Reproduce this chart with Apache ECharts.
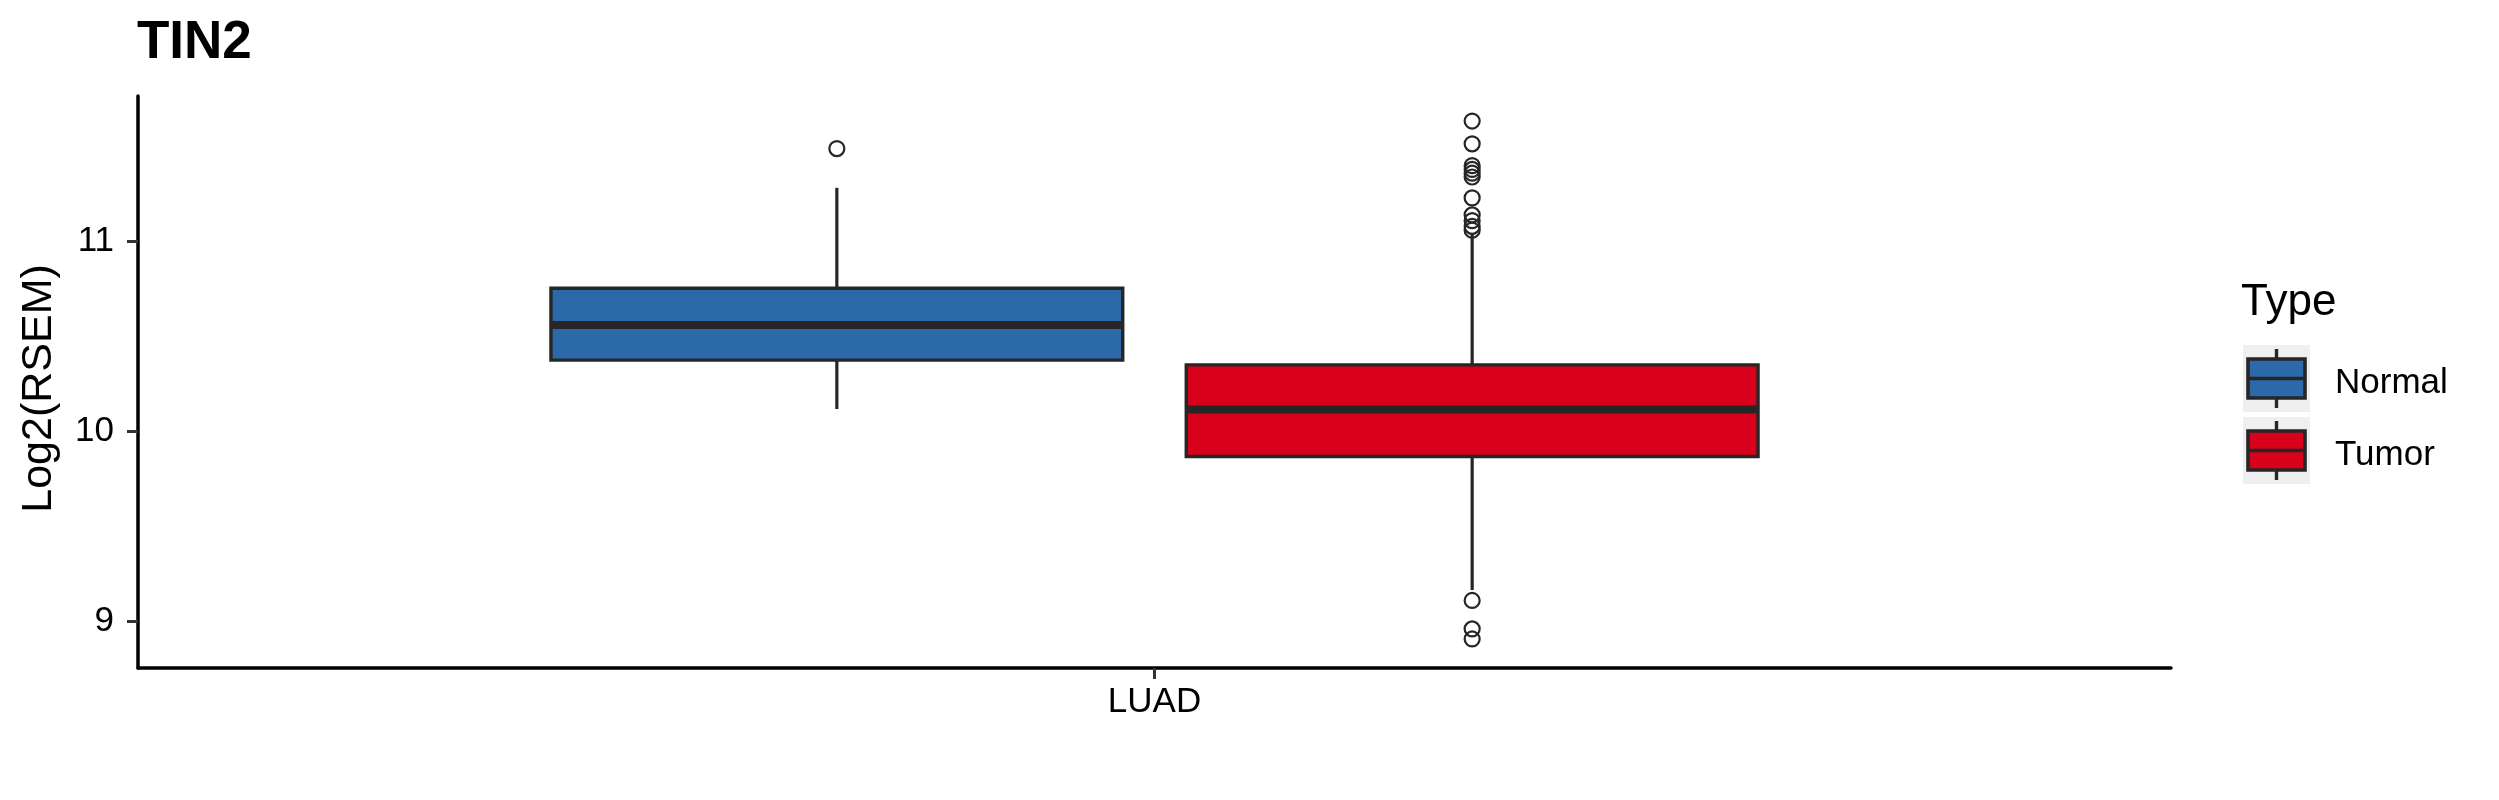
<!DOCTYPE html>
<html><head><meta charset="utf-8">
<script src="https://cdn.jsdelivr.net/npm/echarts@6/dist/echarts.min.js"></script>
<style>html,body{margin:0;padding:0;background:#fff}#c{width:2499px;height:800px}</style>
</head><body><div id="c"></div>
<script>
// ---- data ----
const categories = ['LUAD'];
const groupNames = ['Normal', 'Tumor'];
// [lower whisker, Q1, median, Q3, upper whisker]
const normalStats = [10.117, 10.375, 10.56, 10.754, 11.283];
const tumorStats = [9.163, 9.867, 10.115, 10.35, 11.045];
const normalOutliers = [11.49];
const tumorOutliers = [11.635, 11.515, 11.40, 11.38, 11.36, 11.34, 11.23, 11.14, 11.11, 11.08, 11.06, 9.108, 8.958, 8.905];
const yTicks = [9, 10, 11];
const yMin = 8.752, yMax = 11.767;

// ---- style ----
const FONT = "'Liberation Sans', Arial, Helvetica, sans-serif";
const INK = '#262626';
const colors = { Normal: '#2C69A8', Tumor: '#D9001B' };
const dodges = { Normal: -1, Tumor: 1 };

function bandGeom(api, catIdx, side) {
  const band = api.size([1, 0])[0];
  const unit = band / 1.2;               // discrete scale expanded by 0.6 each side
  const boxW = 0.75 / 2 * 0.9 * unit;    // dodged box width with padding
  const cx = api.coord([catIdx, yMin])[0] + side * 0.75 / 4 * unit;
  return { cx, halfW: boxW / 2 };
}

function boxRenderer(name) {
  return function (params, api) {
    const g = bandGeom(api, api.value(0), dodges[name]);
    const y = v => api.coord([api.value(0), v])[1];
    const lo = y(api.value(1)), q1 = y(api.value(2)), med = y(api.value(3)), q3 = y(api.value(4)), hi = y(api.value(5));
    return { type: 'group', children: [
      { type: 'line', shape: { x1: g.cx, y1: hi, x2: g.cx, y2: q3 }, style: { stroke: INK, lineWidth: 3.2 } },
      { type: 'line', shape: { x1: g.cx, y1: q1, x2: g.cx, y2: lo }, style: { stroke: INK, lineWidth: 3.2 } },
      { type: 'rect', shape: { x: g.cx - g.halfW, y: q3, width: 2 * g.halfW, height: q1 - q3 }, style: { fill: colors[name], stroke: INK, lineWidth: 3.4 } },
      { type: 'line', shape: { x1: g.cx - g.halfW, y1: med, x2: g.cx + g.halfW, y2: med }, style: { stroke: INK, lineWidth: 8 } }
    ]};
  };
}
function outlierRenderer(name) {
  return function (params, api) {
    const g = bandGeom(api, api.value(0), dodges[name]);
    const p = api.coord([api.value(0), api.value(1)]);
    return { type: 'circle', shape: { cx: g.cx, cy: p[1], r: 7.5 }, style: { fill: 'none', stroke: INK, lineWidth: 2.2 } };
  };
}
// tick mark under the category, drawn through the category scale
function xTickRenderer(params, api) {
  const p = api.coord([api.value(0), yMin]);
  return { type: 'line', shape: { x1: p[0], y1: p[1], x2: p[0], y2: p[1] + 11 }, style: { stroke: '#333', lineWidth: 3 } };
}

const statsBy = { Normal: normalStats, Tumor: tumorStats };
const outBy = { Normal: normalOutliers, Tumor: tumorOutliers };
const series = [];
groupNames.forEach(name => {
  series.push({
    name, type: 'custom', renderItem: boxRenderer(name),
    itemStyle: { color: colors[name] },
    encode: { x: 0, y: [1, 2, 3, 4, 5] },
    data: [[0].concat(statsBy[name])], z: 2
  });
});
groupNames.forEach(name => {
  series.push({
    name, type: 'custom', renderItem: outlierRenderer(name),
    itemStyle: { color: colors[name] },
    encode: { x: 0, y: 1 },
    data: outBy[name].map(v => [0, v]), z: 3
  });
});
series.push({
  name: 'xtick', type: 'custom', renderItem: xTickRenderer, clip: false,
  encode: { x: 0, y: 1 }, data: categories.map((c, i) => [i, yMin]), z: 4, silent: true
});

// legend key glyphs (ggplot-style keys with grey background)
const KEY = { left: 2243, top: 345, size: 67, step: 72 };
const keyGraphics = [];
groupNames.forEach((name, i) => {
  const t = KEY.top + i * KEY.step, l = KEY.left, cx = l + KEY.size / 2;
  keyGraphics.push({
    type: 'group', z: 10, children: [
      { type: 'rect', shape: { x: l, y: t, width: KEY.size, height: KEY.size }, style: { fill: '#EFEFEF' } },
      { type: 'line', shape: { x1: cx, y1: t + 4, x2: cx, y2: t + KEY.size - 4 }, style: { stroke: INK, lineWidth: 3.4 } },
      { type: 'rect', shape: { x: l + 5, y: t + 14, width: KEY.size - 10, height: 39 }, style: { fill: colors[name], stroke: INK, lineWidth: 3.6 } },
      { type: 'line', shape: { x1: l + 5, y1: t + 33.5, x2: l + KEY.size - 5, y2: t + 33.5 }, style: { stroke: INK, lineWidth: 3.4 } }
    ]
  });
});

const chart = echarts.init(document.getElementById('c'), null, { renderer: 'canvas' });
chart.setOption({
  backgroundColor: '#fff',
  animation: false,
  title: [
    { text: 'TIN2', left: 137, top: 17, padding: 0, textStyle: { fontFamily: FONT, fontSize: 53, fontWeight: 'bold', color: '#000' } },
    { text: 'Type', left: 2241, top: 281, padding: 0, textStyle: { fontFamily: FONT, fontSize: 44, fontWeight: 'normal', color: '#000' } }
  ],
  graphic: keyGraphics,
  legend: {
    data: groupNames.map(n => ({ name: n, icon: 'rect', itemStyle: { opacity: 0 } })),
    orient: 'vertical', left: 2248, top: 354, padding: 0,
    itemWidth: 57, itemHeight: 59, itemGap: 13,
    itemStyle: { opacity: 0 },
    textStyle: { fontFamily: FONT, fontSize: 35, color: '#000', padding: [0, 0, 0, 25] },
    selectedMode: false
  },
  grid: { left: 138, right: 328, top: 96, bottom: 132, containLabel: false },
  xAxis: {
    type: 'category', data: categories, boundaryGap: true,
    axisLine: { lineStyle: { color: '#000', width: 3.5 } },
    axisTick: { show: false },
    axisLabel: { margin: 17, fontFamily: FONT, fontSize: 35, color: '#000' },
    splitLine: { show: false }
  },
  yAxis: {
    type: 'value', min: yMin, max: yMax,
    name: 'Log2(RSEM)', nameLocation: 'middle', nameGap: 77,
    nameTextStyle: { fontFamily: FONT, fontSize: 43, color: '#000', padding: [0, 13, 0, 0] },
    axisLine: { show: true, lineStyle: { color: '#000', width: 3.5 } },
    axisTick: { show: true, length: 11, lineStyle: { color: '#333', width: 3 }, customValues: yTicks },
    axisLabel: { margin: 24, fontFamily: FONT, fontSize: 35, color: '#000', customValues: yTicks },
    splitLine: { show: false }
  },
  series
});
</script></body></html>
